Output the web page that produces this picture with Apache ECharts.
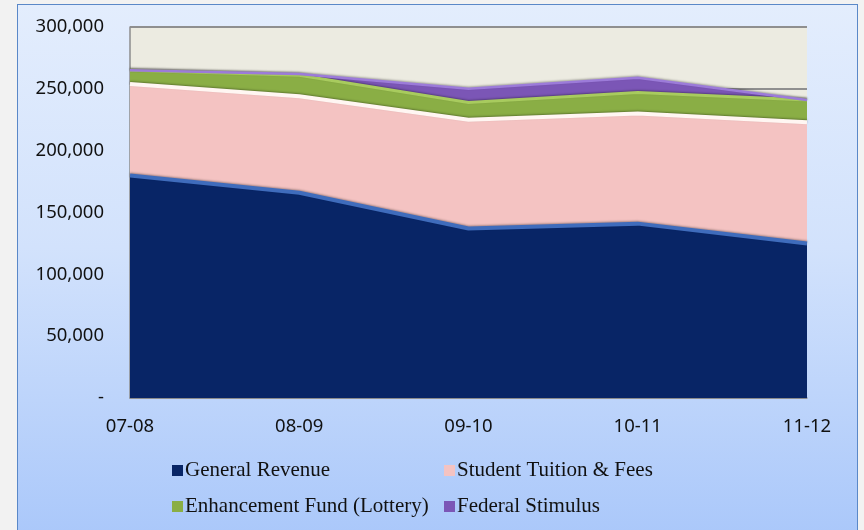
<!DOCTYPE html>
<html>
<head>
<meta charset="utf-8">
<title>Revenue by source</title>
<script src="https://cdn.jsdelivr.net/npm/echarts@6/dist/echarts.min.js"></script>
<style>
  html, body { margin: 0; padding: 0; background: #f2f2f2; }
  #panel {
    position: absolute; left: 17px; top: 4px; width: 839px; height: 540px;
    border: 1px solid #5a88c8;
    background: linear-gradient(to bottom, #e3edfd 0%, #d2e2fc 45%, #a9c7fa 100%);
  }
  #main { position: absolute; left: 0; top: 0; width: 864px; height: 530px; }
</style>
</head>
<body>
<div id="panel"></div>
<div id="main"></div>
<script>
// fiscal years
const years = ['07-08', '08-09', '09-10', '10-11', '11-12'];

// values (stacked, bottom to top)
const generalRevenue = [180000, 166000, 137000, 141000, 125000];
const tuitionFees = [74000, 78000, 88000, 89000, 98000];
const lotteryFund = [11000, 17000, 14000, 17000, 18000];
const federalStimulus = [0, 1000, 11000, 12000, 0];

const seriesNames = [
  'General Revenue',
  'Student Tuition & Fees',
  'Enhancement Fund (Lottery)',
  'Federal Stimulus'
];

const chart = echarts.init(document.getElementById('main'), null, { renderer: 'canvas' });

// one stacked area with a lighter rim on top, to fake the 3D look
function areaSeries(name, data, fill, rim, rimWidth) {
  return {
    name: name,
    type: 'line',
    stack: 'total',
    data: data,
    symbol: 'none',
    smooth: false,
    lineStyle: {
      color: rim,
      width: rimWidth,
      shadowColor: 'rgba(0,0,0,0.3)',
      shadowBlur: 2,
      shadowOffsetY: -1
    },
    areaStyle: { color: fill, opacity: 1 },
    itemStyle: { color: fill }
  };
}

// legend entries sit in a 2 x 2 block
function legendAt(name, left, top) {
  return {
    data: [name],
    left: left,
    top: top,
    icon: 'rect',
    itemWidth: 11,
    itemHeight: 11,
    itemGap: 0,
    padding: 0,
    textStyle: {
      fontFamily: 'Liberation Serif',
      fontSize: 21,
      color: '#111',
      padding: [0, 0, 0, -3]
    }
  };
}

const option = {
  animation: false,
  backgroundColor: 'transparent',
  grid: {
    left: 130,
    top: 27,
    width: 677,
    height: 371,
    show: true,
    backgroundColor: '#ecebe1',
    borderWidth: 0
  },
  legend: [
    legendAt(seriesNames[0], 172, 460),
    legendAt(seriesNames[1], 444, 460),
    legendAt(seriesNames[2], 172, 496),
    legendAt(seriesNames[3], 444, 496)
  ],
  xAxis: {
    type: 'category',
    data: years,
    boundaryGap: false,
    axisLine: { lineStyle: { color: '#8c8c8c', width: 1.5 } },
    axisTick: { show: false },
    axisLabel: {
      margin: 19,
      fontFamily: 'Noto Sans',
      fontSize: 18.5,
      color: '#111'
    }
  },
  yAxis: {
    type: 'value',
    min: 0,
    max: 300000,
    interval: 50000,
    axisLine: { show: true, lineStyle: { color: '#8c8c8c', width: 1.5 } },
    axisTick: { show: false },
    splitLine: { lineStyle: { color: '#8f8f8f', width: 2 } },
    axisLabel: {
      margin: 26,
      fontFamily: 'Noto Sans',
      fontSize: 18.5,
      color: '#111',
      formatter: function (v) {
        if (v === 0) return '-';
        return v.toLocaleString('en-US');
      }
    }
  },
  series: [
    areaSeries(seriesNames[0], generalRevenue, '#082566', '#3f6cbc', 4),
    areaSeries(seriesNames[1], tuitionFees, '#f4c3c2', '#fff6f2', 4),
    areaSeries(seriesNames[2], lotteryFund, '#8aae45', '#a8cb5e', 3),
    areaSeries(seriesNames[3], federalStimulus, '#7b56b6', '#9c7bd9', 2.5)
  ]
};

chart.setOption(option);
</script>
</body>
</html>
